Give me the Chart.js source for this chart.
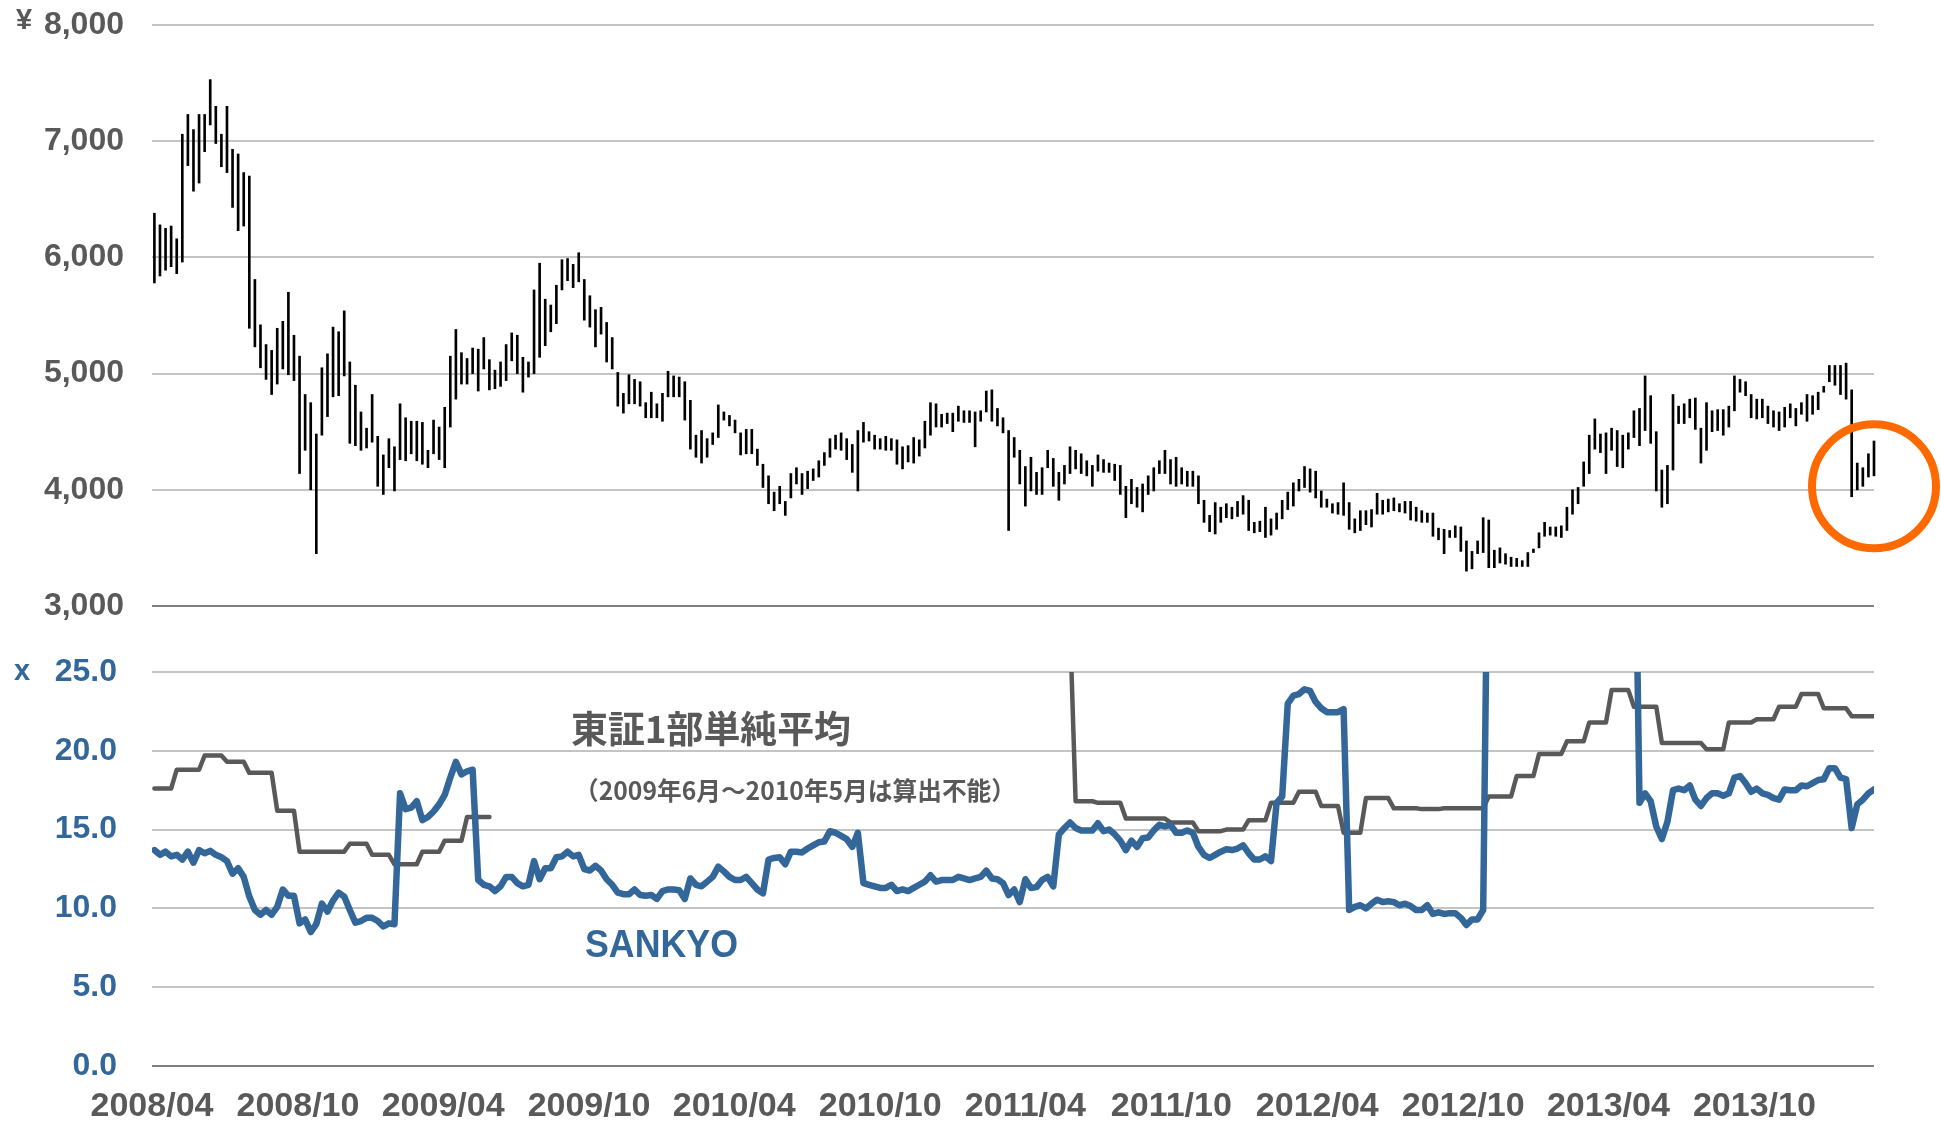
<!DOCTYPE html>
<html>
<head>
<meta charset="utf-8">
<title>SANKYO 株価とPER</title>
<script src="https://cdn.jsdelivr.net/npm/chart.js@4.4.1/dist/chart.umd.min.js"></script>
<style>
  html, body { margin: 0; padding: 0; background: #fff; }
  #wrap { position: relative; width: 1941px; height: 1121px; }
  #priceBox { position: absolute; left: 0; top: 0; width: 1941px; height: 640px; }
  #perBox { position: absolute; left: 0; top: 640px; width: 1941px; height: 481px; }
</style>
</head>
<body>
<div id="wrap">
  <div id="priceBox"><canvas id="priceChart"></canvas></div>
  <div id="perBox"><canvas id="perChart"></canvas></div>
</div>
<script>
// weekly data, first week closes 2008/04/04, one point per week
const firstWeek = Date.UTC(2008, 3, 4);

const tickLabels = ['2008/04', '2008/10', '2009/04', '2009/10', '2010/04', '2010/10',
                    '2011/04', '2011/10', '2012/04', '2012/10', '2013/04', '2013/10'];

// weekly high / low (yen)
const priceHigh = [
  6380,6280,6250,6270,6160,7060,7230,7100,7230,7230,
  7530,7300,7060,7300,6930,6890,6730,6700,5810,5420,
  5250,5200,5390,5450,5700,5330,5150,4820,4750,4480,
  5050,5170,5400,5360,5540,5100,4900,4670,4530,4820,
  4460,4300,4440,4370,4740,4620,4590,4590,4580,4340,
  4600,4540,4710,5150,5380,5180,5130,5220,5210,5310,
  5120,5030,5100,5250,5350,5330,5140,5100,5720,5950,
  5640,5590,5760,5980,5990,5940,6040,5810,5670,5550,
  5570,5440,5310,5010,4830,4990,4950,4930,4750,4840,
  4740,4830,5020,4980,4970,4930,4770,4470,4510,4440,
  4490,4730,4670,4640,4600,4490,4520,4520,4350,4220,
  4120,3980,4030,3900,4140,4190,4140,4160,4180,4250,
  4320,4440,4470,4490,4440,4390,4510,4580,4500,4470,
  4440,4460,4440,4430,4370,4380,4450,4430,4590,4750,
  4740,4650,4660,4660,4720,4680,4680,4670,4680,4850,
  4860,4700,4620,4510,4450,4340,4200,4280,4150,4190,
  4340,4270,4150,4210,4370,4340,4310,4250,4210,4300,
  4260,4230,4220,4210,4030,4090,4020,4050,4120,4190,
  4250,4340,4260,4280,4190,4160,4160,4120,3910,3780,
  3890,3850,3880,3850,3900,3950,3910,3720,3730,3850,
  3750,3800,3910,3980,4060,4090,4200,4180,4160,3990,
  3920,3880,3890,4060,3890,3750,3820,3820,3830,3970,
  3910,3920,3930,3880,3900,3900,3850,3820,3800,3800,
  3670,3660,3650,3690,3680,3560,3470,3560,3760,3740,
  3480,3500,3450,3420,3410,3390,3460,3490,3630,3720,
  3680,3680,3690,3850,4000,4020,4240,4470,4610,4480,
  4490,4530,4510,4470,4490,4680,4700,4980,4810,4500,
  4170,4210,4820,4720,4740,4780,4790,4530,4750,4680,
  4690,4690,4720,4980,4950,4930,4820,4780,4780,4720,
  4680,4670,4710,4740,4700,4750,4820,4810,4840,4890,
  5070,5070,5070,5090,4860,4230,4190,4310,4420
];
const priceLow = [
  5780,5840,5890,5920,5860,5960,6790,6570,6640,6910,
  7140,6980,6780,6730,6430,6230,6270,5390,5230,5050,
  4950,4820,4910,5040,4990,4940,4140,4340,4000,3450,
  4470,4630,4800,4810,4980,4400,4380,4340,4360,4410,
  4030,3960,4190,3990,4260,4250,4310,4250,4220,4190,
  4310,4260,4190,4540,4780,4910,4910,5000,4850,5040,
  4860,4870,4890,4940,5110,5000,4840,4970,5000,5140,
  5240,5360,5430,5720,5800,5740,5790,5460,5400,5230,
  5340,5100,5040,4720,4660,4740,4740,4720,4620,4620,
  4620,4590,4800,4800,4800,4600,4350,4280,4230,4280,
  4390,4450,4600,4550,4490,4300,4310,4310,4210,4020,
  3880,3820,3880,3780,3930,4050,3960,4010,4080,4110,
  4210,4280,4350,4340,4260,4150,3990,4410,4420,4350,
  4350,4340,4340,4220,4180,4240,4230,4290,4360,4470,
  4540,4540,4570,4500,4590,4580,4580,4370,4590,4670,
  4590,4550,4490,3650,4280,4050,3860,3990,3960,3960,
  4190,4030,3910,4050,4140,4180,4140,4120,4030,4160,
  4150,4150,4080,3960,3760,3880,3850,3810,3960,3990,
  4140,4140,4050,4030,4050,4030,4030,3880,3720,3640,
  3620,3720,3760,3750,3770,3790,3650,3630,3640,3590,
  3610,3660,3750,3830,3860,3990,4020,3980,3930,3850,
  3850,3800,3790,3780,3660,3630,3650,3700,3680,3790,
  3790,3810,3820,3810,3800,3740,3730,3720,3720,3600,
  3570,3450,3590,3590,3470,3300,3320,3450,3460,3330,
  3330,3370,3360,3340,3340,3340,3340,3460,3500,3600,
  3610,3600,3590,3650,3790,3880,4030,4140,4350,4320,
  4140,4340,4200,4190,4350,4450,4380,4510,4400,3990,
  3850,3880,4170,4570,4570,4620,4520,4230,4340,4500,
  4510,4470,4540,4680,4840,4810,4620,4610,4620,4570,
  4540,4510,4540,4620,4550,4650,4590,4650,4690,4840,
  4930,4900,4820,4780,3940,4000,4030,4110,4120
];

// SANKYO PER (x); 40 = above the 25x ceiling, off the chart
const sankyoPer = [
  13.7,13.4,13.6,13.3,13.4,13.1,13.6,12.9,13.7,13.5,
  13.65,13.4,13.25,13.0,12.2,12.55,12.0,10.75,9.9,9.6,
  9.9,9.6,10.1,11.2,10.8,10.8,9.05,9.3,8.5,9.0,
  10.3,9.8,10.5,11.0,10.75,9.9,9.1,9.2,9.4,9.4,
  9.2,8.85,9.05,9.0,17.3,16.3,16.4,16.8,15.6,15.8,
  16.15,16.6,17.2,18.3,19.3,18.5,18.7,18.8,11.8,11.5,
  11.4,11.1,11.4,12.0,12.0,11.6,11.4,11.5,13.0,11.85,
  12.55,12.55,13.25,13.3,13.6,13.3,13.4,12.5,12.4,12.7,
  12.4,11.85,11.5,11.0,10.9,10.9,11.2,10.85,10.8,10.85,
  10.6,11.1,11.2,11.2,11.15,10.6,11.9,11.5,11.4,11.7,
  12.0,12.65,12.35,12.0,11.8,11.8,12.0,11.6,11.2,10.95,
  13.1,13.2,13.25,12.8,13.6,13.6,13.55,13.8,14.0,14.2,
  14.25,14.9,14.8,14.6,14.4,13.9,14.8,11.6,11.5,11.4,
  11.3,11.3,11.5,11.1,11.2,11.1,11.3,11.5,11.7,12.1,
  11.7,11.8,11.8,11.8,12.0,11.9,11.8,11.9,12.0,12.4,
  11.9,11.85,11.6,10.85,11.2,10.4,11.85,11.3,11.35,11.8,
  12.0,11.4,14.7,15.1,15.45,15.1,14.95,14.95,14.95,15.4,
  14.9,15.0,14.7,14.3,13.7,14.3,13.9,14.45,14.5,14.95,
  15.3,15.2,15.3,14.8,14.8,14.95,14.8,13.9,13.4,13.2,
  13.4,13.6,13.75,13.7,13.8,14.0,13.5,13.1,13.1,13.3,
  13.0,16.7,17.1,23.0,23.5,23.6,23.9,23.8,23.1,22.7,
  22.45,22.45,22.45,22.65,9.9,10.1,10.2,10.0,10.3,10.55,
  10.4,10.45,10.4,10.2,10.3,10.15,9.9,9.9,10.2,9.65,
  9.75,9.65,9.7,9.7,9.4,8.95,9.3,9.3,9.9,40,
  40,40,40,40,40,40,40,40,40,40,
  40,40,40,40,40,40,40,40,40,40,
  40,40,40,40,40,40,16.7,17.3,16.8,15.2,
  14.4,15.5,17.5,17.6,17.5,17.8,16.9,16.5,17.0,17.3,
  17.3,17.15,17.3,18.3,18.4,17.95,17.4,17.6,17.3,17.2,
  17.0,16.9,17.55,17.5,17.5,17.8,17.75,17.95,18.15,18.2,
  18.9,18.9,18.3,18.2,15.1,16.6,16.9,17.3,17.55
];

// 東証1部単純平均 PER; null = not computable (2009/06-2010/05), 28 = off the chart
const marketPer = [
  17.6,17.6,17.6,17.6,18.8,18.8,18.8,18.8,18.8,19.7,
  19.7,19.7,19.7,19.3,19.3,19.3,19.3,18.6,18.6,18.6,
  18.6,18.6,16.2,16.2,16.2,16.2,13.6,13.6,13.6,13.6,
  13.6,13.6,13.6,13.6,13.6,14.1,14.1,14.1,14.1,13.4,
  13.4,13.4,13.4,12.8,12.8,12.8,12.8,12.8,13.6,13.6,
  13.6,13.6,14.3,14.3,14.3,14.3,15.8,15.8,15.8,15.8,
  15.8,null,null,null,null,null,null,null,null,null,
  null,null,null,null,null,null,null,null,null,null,
  null,null,null,null,null,null,null,null,null,null,
  null,null,null,null,null,null,null,null,null,null,
  null,null,null,null,null,null,null,null,null,null,
  null,null,null,28,28,28,28,28,28,28,
  28,28,28,28,28,28,28,28,28,28,
  28,28,28,28,28,28,28,28,28,28,
  28,28,28,28,28,28,28,28,28,28,
  28,28,28,28,28,28,28,28,28,28,
  28,28,28,28,28,16.8,16.8,16.8,16.8,16.7,
  16.7,16.7,16.7,16.7,15.7,15.7,15.7,15.7,15.7,15.7,
  15.7,15.7,15.45,15.45,15.45,15.45,15.45,14.9,14.9,14.9,
  14.9,14.9,15.0,15.0,15.0,15.0,15.6,15.6,15.6,15.6,
  16.7,16.7,16.7,16.7,16.7,17.4,17.4,17.4,17.4,16.5,
  16.5,16.5,16.5,14.8,14.8,14.8,14.8,17.0,17.0,17.0,
  17.0,17.0,16.35,16.35,16.35,16.35,16.35,16.3,16.3,16.3,
  16.3,16.35,16.35,16.35,16.35,16.35,16.35,16.35,16.35,17.1,
  17.1,17.1,17.1,17.1,18.4,18.4,18.4,18.4,19.8,19.8,
  19.8,19.8,19.8,20.6,20.6,20.6,20.6,21.8,21.8,21.8,
  21.8,23.85,23.85,23.85,23.85,22.8,22.8,22.8,22.8,22.8,
  20.5,20.5,20.5,20.5,20.5,20.5,20.5,20.5,20.1,20.1,
  20.1,20.1,21.8,21.8,21.8,21.8,21.8,22.0,22.0,22.0,
  22.0,22.8,22.8,22.8,22.8,23.6,23.6,23.6,23.6,22.7,
  22.7,22.7,22.7,22.7,22.2,22.2,22.2,22.2,22.2
];

const GRAY = '#595959';
const BLUE = '#336699';
const GRID = '#c4c4c4';
const AXIS = '#808080';

// x is measured in weeks from the first bar
function weekOf(label) {
  const [y, m] = label.split('/').map(Number);
  return (Date.UTC(y, m - 1, 1) - firstWeek) / (7 * 864e5);
}
const tickPos = tickLabels.map(weekOf);
const xMin = tickPos[0];
const xMax = priceHigh.length - 1;

const bars = priceHigh.map((h, i) => ({ x: i, y: [priceLow[i], h] }));
const sankyoPts = sankyoPer.map((v, i) => ({ x: i, y: v }));
const marketPts = marketPer.map((v, i) => ({ x: i, y: v }));

function stretchText(ctx, text, left, midY, font, color, width) {
  ctx.save();
  ctx.font = font;
  ctx.fillStyle = color;
  ctx.textAlign = 'left';
  ctx.textBaseline = 'middle';
  const w = ctx.measureText(text).width;
  ctx.translate(left, midY);
  ctx.scale(width / w, 1);
  ctx.fillText(text, 0, 0);
  ctx.restore();
}

// y axes: fixed width, and no extra top/bottom room for the end labels
function fixYAxis(s) {
  s.width = 152;
  s.paddingTop = 0;
  s.paddingBottom = 0;
}

const priceNotes = {
  id: 'priceNotes',
  afterDraw(chart) {
    const ctx = chart.ctx;
    ctx.save();
    ctx.font = 'bold 29px "Liberation Sans"';
    ctx.fillStyle = GRAY;
    ctx.textAlign = 'center';
    ctx.textBaseline = 'middle';
    ctx.fillText('¥', 24, 21);
    // circle round the last weeks
    const cx = chart.scales.x.getPixelForValue(xMax);
    const cy = chart.scales.y.getPixelForValue(4030);
    ctx.beginPath();
    ctx.arc(cx, cy, 62, 0, Math.PI * 2);
    ctx.lineWidth = 8;
    ctx.strokeStyle = '#ff6a00';
    ctx.stroke();
    ctx.restore();
  }
};

const perNotes = {
  id: 'perNotes',
  afterDraw(chart) {
    const ctx = chart.ctx;
    ctx.save();
    ctx.font = 'bold 29px "Liberation Sans"';
    ctx.fillStyle = BLUE;
    ctx.textAlign = 'center';
    ctx.textBaseline = 'middle';
    ctx.fillText('x', 22, 32);
    ctx.restore();
    stretchText(ctx, '東証1部単純平均', 571, 89, 'bold 37px "Noto Sans CJK JP"', GRAY, 280);
    stretchText(ctx, '（2009年6月～2010年5月は算出不能）', 574, 150, 'bold 25px "Noto Sans CJK JP"', GRAY, 442);
    stretchText(ctx, 'SANKYO', 585, 306, 'bold 39px "Liberation Sans"', BLUE, 153);
  }
};

const tickFont = { family: 'Liberation Sans', weight: 'bold', size: 32 };

new Chart(document.getElementById('priceChart'), {
  type: 'bar',
  data: {
    datasets: [{
      data: bars,
      backgroundColor: '#000',
      barThickness: 2,
      clip: false
    }]
  },
  options: {
    responsive: true,
    maintainAspectRatio: false,
    animation: false,
    layout: { padding: { top: 25, right: 67, bottom: 34, left: 0 } },
    plugins: { legend: { display: false }, tooltip: { enabled: false } },
    scales: {
      x: { type: 'linear', min: xMin, max: xMax, offset: false, display: false },
      y: {
        min: 3000,
        max: 8000,
        afterFit: fixYAxis,
        border: { display: false },
        grid: {
          color: c => c.tick.value === 3000 ? AXIS : GRID,
          lineWidth: 2,
          drawTicks: false
        },
        ticks: {
          stepSize: 1000,
          padding: 28,
          color: GRAY,
          font: tickFont,
          callback: v => v.toLocaleString('en-US')
        }
      }
    }
  },
  plugins: [priceNotes]
});

new Chart(document.getElementById('perChart'), {
  type: 'line',
  data: {
    datasets: [
      {
        label: 'SANKYO',
        data: sankyoPts,
        borderColor: BLUE,
        borderWidth: 6.5,
        pointRadius: 0,
        tension: 0,
        borderJoinStyle: 'round',
        borderCapStyle: 'round'
      },
      {
        label: '東証1部単純平均',
        data: marketPts,
        borderColor: GRAY,
        borderWidth: 4.5,
        pointRadius: 0,
        tension: 0,
        spanGaps: false,
        borderJoinStyle: 'round',
        borderCapStyle: 'round'
      }
    ]
  },
  options: {
    responsive: true,
    maintainAspectRatio: false,
    animation: false,
    layout: { padding: { top: 32, right: 67, bottom: 0, left: 0 } },
    plugins: { legend: { display: false }, tooltip: { enabled: false } },
    scales: {
      x: {
        type: 'linear',
        min: xMin,
        max: xMax,
        offset: false,
        afterFit: s => { s.height = 55; },
        afterBuildTicks: s => { s.ticks = tickPos.map(v => ({ value: v })); },
        border: { display: false },
        grid: { display: false },
        ticks: {
          autoSkip: false,
          maxRotation: 0,
          padding: 12,
          color: GRAY,
          font: { family: 'Liberation Sans', weight: 'bold', size: 34 },
          callback: (v, i) => tickLabels[i]
        }
      },
      y: {
        min: 0,
        max: 25,
        afterFit: fixYAxis,
        border: { display: false },
        grid: {
          color: c => c.tick.value === 0 ? AXIS : GRID,
          lineWidth: 2,
          drawTicks: false
        },
        ticks: {
          stepSize: 5,
          padding: 35,
          color: BLUE,
          font: tickFont,
          callback: v => v.toFixed(1)
        }
      }
    }
  },
  plugins: [perNotes]
});
</script>
</body>
</html>
